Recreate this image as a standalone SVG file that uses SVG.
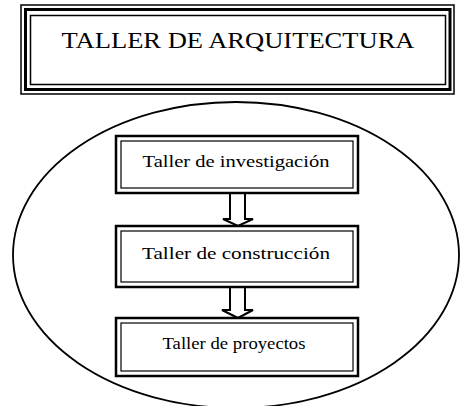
<svg xmlns="http://www.w3.org/2000/svg" width="460" height="406" viewBox="0 0 460 406">
<style>
.thin{fill:none;stroke:#000;stroke-width:1.5}
.thick{fill:none;stroke:#000;stroke-width:3}
.bo{fill:#fff;stroke:#000;stroke-width:2.5}
.bi{fill:none;stroke:#000;stroke-width:1.2}
.t{font-family:"Liberation Serif",serif;fill:#000;text-anchor:middle}
.arr{fill:#fff;stroke:#000;stroke-width:2;stroke-linejoin:miter}
</style>
<rect width="460" height="406" fill="#fff"/>
<g id="title">
<rect class="thin" x="21" y="5" width="433" height="89"/>
<rect class="thick" x="25.5" y="9.5" width="424.5" height="80"/>
<rect class="thin" x="30.5" y="15.5" width="415" height="69"/>
<text class="t" x="238" y="48" font-size="23" textLength="353" lengthAdjust="spacingAndGlyphs">TALLER DE ARQUITECTURA</text>
</g>
<g id="ellipse">
<ellipse cx="236" cy="255" rx="223" ry="153" fill="none" stroke="#000" stroke-width="1.8"/>
</g>
<g id="connectors">
<path class="arr" d="M230,193 V219 H223 L238,226 L253,219 H245 V193"/>
<path class="arr" d="M230,287 V310 H222 L238,318 L253,310 H245 V287"/>
</g>
<g id="box1">
<rect class="bo" x="116" y="136" width="242" height="57"/>
<rect class="bi" x="121" y="141" width="232" height="47"/>
<text class="t" x="236" y="167" font-size="17.5" textLength="187" lengthAdjust="spacingAndGlyphs">Taller de investigación</text>
</g>
<g id="box2">
<rect class="bo" x="116" y="226" width="242" height="61"/>
<rect class="bi" x="121" y="231" width="232" height="51"/>
<text class="t" x="236" y="259" font-size="17.5" textLength="188" lengthAdjust="spacingAndGlyphs">Taller de construcción</text>
</g>
<g id="box3">
<rect class="bo" x="116" y="318" width="242" height="58"/>
<rect class="bi" x="121" y="323" width="232" height="48"/>
<text class="t" x="234" y="349" font-size="17.5" textLength="143" lengthAdjust="spacingAndGlyphs">Taller de proyectos</text>
</g>
</svg>
